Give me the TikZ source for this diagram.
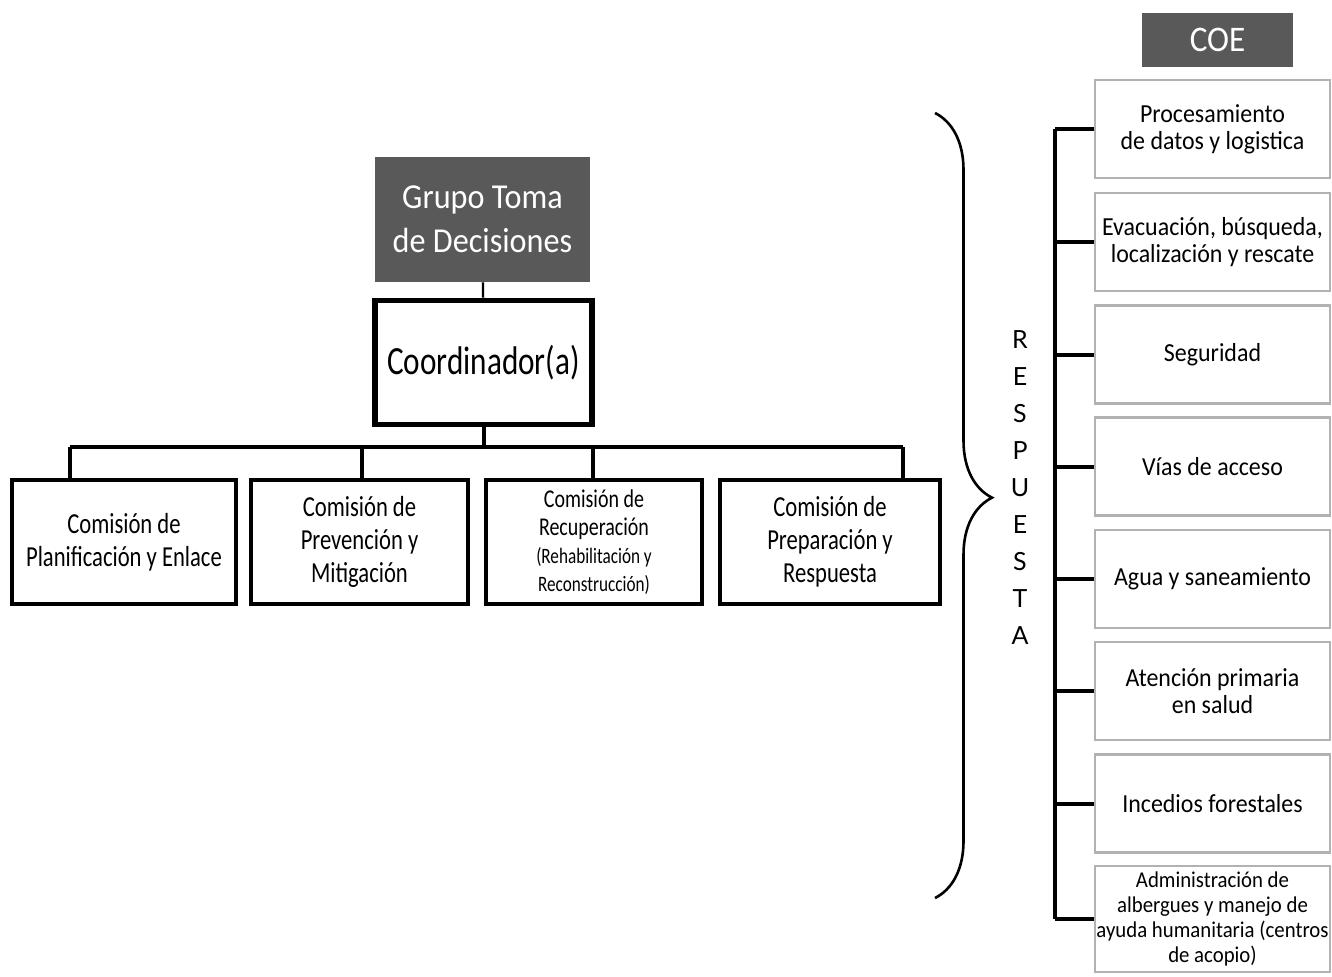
\documentclass[tikz,border=0pt]{standalone}
\usepackage{fontspec}
\setmainfont[FakeStretch=0.92]{Carlito}
\newfontfamily\narrowfont[FakeStretch=0.78]{Carlito}
\newfontfamily\letterfont{Lato}
\usetikzlibrary{positioning,calc,decorations.pathreplacing}
\tikzset{
  headbox/.style={fill=black!65,text=white,inner sep=0pt,align=center},
  combox/.style={draw,line width=2.4pt,minimum height=62pt,inner sep=0pt,align=center,
    font=\narrowfont\fontsize{14.5}{16.5}\selectfont},
  coebox/.style={draw=black!30,line width=1.3pt,minimum width=117.5pt,minimum height=49pt,
    inner sep=0pt,align=center,font=\fontsize{13}{13.5}\selectfont},
  link/.style={line width=2pt},
}
\newcommand{\smalltxt}{\fontsize{11}{13.5}\selectfont}
\begin{document}
\begin{tikzpicture}[x=0.5pt,y=-0.5pt]
\useasboundingbox (0,0) rectangle (1332,976);
% left tree
\node[headbox,minimum width=107.5pt,minimum height=62.5pt,font=\fontsize{17.5}{22}\selectfont] (grupo) at (482.5,219.5) {Grupo Toma\\de Decisiones};
\node[combox,minimum width=108.5pt,line width=2.8pt,font=\narrowfont\fontsize{20}{22}\selectfont] (coord) at (483.5,362.5) {Coordinador(a)};
\node[combox,minimum width=112pt] (com1) at (124,542) {Comisión de\\Planificación y Enlace};
\node[combox,minimum width=108.5pt] (com2) at (359.5,542) {Comisión de\\Prevención y\\Mitigación};
\node[combox,minimum width=108pt,font=\narrowfont\fontsize{12.8}{14}\selectfont] (com3) at (594,542) {Comisión de\\Recuperación\\\smalltxt(Rehabilitación y\\\smalltxt Reconstrucción)};
\node[combox,minimum width=110pt] (com4) at (830,542) {Comisión de\\Preparación y\\Respuesta};
\draw[line width=1.2pt] (grupo) -- (coord);
\coordinate (bus) at (483.5,447);
\coordinate (b1) at (70,447);
\coordinate (b2) at (362,447);
\coordinate (b3) at (593,447);
\coordinate (b4) at (903,447);
\draw[link] (coord) -- (bus);
\draw[link] (b1) -- (b4);
\foreach \i in {1,...,4}{\draw[link] (b\i) -- (b\i |- com\i.north);}
% brace and label
\draw[line width=1.3pt,decorate,decoration={brace,amplitude=28.5pt,aspect=0.49}] (935,113) -- (935,898);
\foreach \l [count=\i from 0] in {R,E,S,P,U,E,S,T,A}
  {\node[font=\letterfont\fontsize{12.5}{12.5}\selectfont] (resp\i) at (1020,340+37*\i) {\l};}
% COE
\node[headbox,minimum width=75.5pt,minimum height=27pt,font=\fontsize{18}{18}\selectfont] (coe) at (1217.5,40) {COE};
\foreach \i/\yy/\txt in {1/129/{Procesamiento\\de datos y logistica},
  2/242/{Evacuación, búsqueda,\\localización y rescate},
  3/354.5/{Seguridad},
  4/466.5/{Vías de acceso},
  5/579/{Agua y saneamiento},
  6/691/{Atención primaria\\en salud},
  7/803.5/{Incedios forestales}}
  {\node[coebox] (r\i) at (1212.5,\yy) {\txt};}
\node[coebox,minimum height=53pt,font=\fontsize{11.3}{12.5}\selectfont] (r8) at (1212.5,919) {Administración de\\albergues y manejo de\\ayuda humanitaria (centros\\de acopio)};
\coordinate (spine) at (1055,0);
\draw[link] (spine |- r1.west) -- (spine |- r8.west);
\foreach \i in {1,...,8}{\draw[link] (spine |- r\i.west) -- (r\i.west);}
\end{tikzpicture}
\end{document}
